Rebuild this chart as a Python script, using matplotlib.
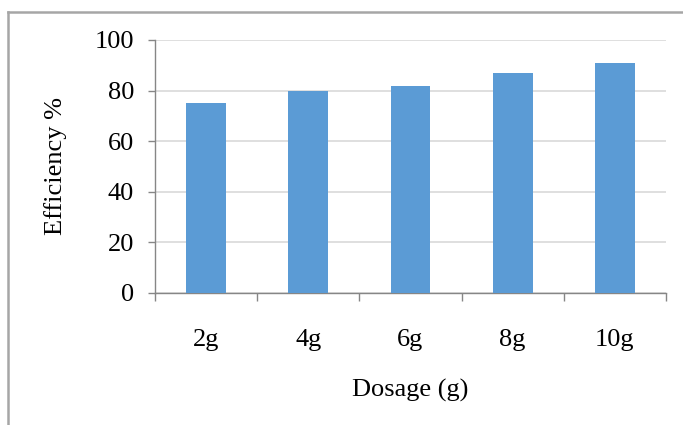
import matplotlib
matplotlib.use("Agg")
import matplotlib.pyplot as plt
from matplotlib.lines import Line2D

# dosage vs removal efficiency
dosages = ["2g", "4g", "6g", "8g", "10g"]
efficiency = [75, 80, 82, 87, 91]
y_ticks = [0, 20, 40, 60, 80, 100]

plt.rcParams['font.family'] = ['Liberation Serif', 'DejaVu Serif']
fs = 19

fig = plt.figure(figsize=(6.83, 4.25), dpi=100)
ax = fig.add_axes([0.227, 0.3106, 0.748, 0.5953])

x = range(len(dosages))
ax.bar(x, efficiency, width=0.39, color='#5B9BD5', zorder=3)

ax.set_xlim(-0.5, len(dosages) - 0.5)
ax.set_ylim(0, 100)
ax.set_yticks(y_ticks)

# category boundaries get the tick marks, labels sit in the middle
ax.set_xticks([i - 0.5 for i in range(len(dosages) + 1)])
ax.set_xticklabels([])
ax.set_xticks(list(x), minor=True)
ax.set_xticklabels(dosages, minor=True)
ax.tick_params(axis='x', which='minor', length=0, pad=26, labelsize=fs)
ax.tick_params(axis='x', which='major', length=5.5, width=1, color='#868686', direction='out')
ax.tick_params(axis='y', length=5, width=1, color='#868686', pad=10, labelsize=fs)

ax.grid(axis='y', color='#d9d9d9', linewidth=1.2, zorder=0)
for side in ['top', 'right']:
    ax.spines[side].set_visible(False)
for side in ['left', 'bottom']:
    ax.spines[side].set_color('#868686')
    ax.spines[side].set_linewidth(1)

ax.set_ylabel("Efficiency %", fontsize=fs, labelpad=20)
ax.set_xlabel("Dosage (g)", fontsize=fs, labelpad=20)

# outer chart frame (left and top edges)
fig.add_artist(Line2D([8 / 683, 8 / 683], [0, 1 - 12 / 425], transform=fig.transFigure,
                      color='#a6a6a6', linewidth=1.8))
fig.add_artist(Line2D([8 / 683, 1], [1 - 12 / 425, 1 - 12 / 425], transform=fig.transFigure,
                      color='#a6a6a6', linewidth=1.8))

fig.savefig("out.png", dpi=100)
